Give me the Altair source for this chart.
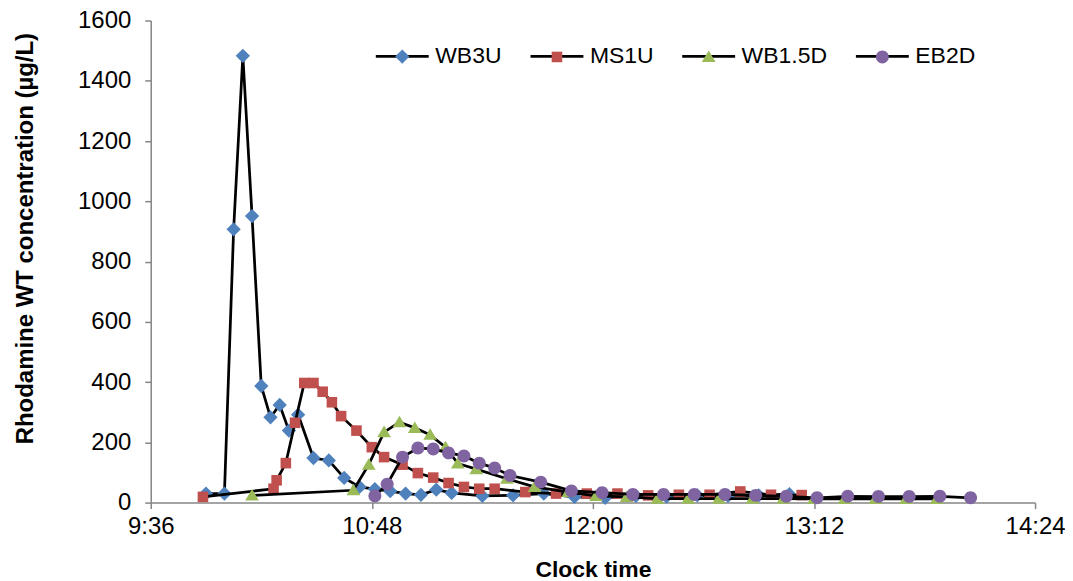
import altair as alt
import pandas as pd

series_names = ["WB3U", "MS1U", "WB1.5D", "EB2D"]
series_colors = ["#4F81BD", "#C0504D", "#9BBB59", "#8064A2"]

wb3u_time = ["9:54", "10:00", "10:03", "10:06", "10:09", "10:12", "10:15", "10:18", "10:21", "10:24",
             "10:29", "10:34", "10:39", "10:44", "10:49", "10:54", "10:59", "11:04", "11:09", "11:14",
             "11:24", "11:34", "11:44", "11:54", "12:04", "12:14", "12:24", "12:34", "12:44", "12:54", "13:04"]
wb3u_conc = [30, 30, 907, 1483, 951, 387, 283, 324, 239, 292,
             148, 140, 82, 52, 45, 38, 30, 26, 43, 32,
             22, 24, 30, 19, 16, 22, 20, 24, 22, 24, 28]

ms1u_time = ["9:53", "10:16", "10:17", "10:20", "10:23", "10:26", "10:29", "10:32", "10:35", "10:38",
             "10:43", "10:48", "10:52", "10:58", "11:03", "11:08", "11:13", "11:18", "11:23", "11:28",
             "11:38", "11:48", "11:58", "12:08", "12:18", "12:28", "12:38", "12:48", "12:58", "13:08"]
ms1u_conc = [19, 46, 74, 131, 265, 397, 397, 368, 333, 287,
             239, 184, 151, 126, 98, 83, 65, 52, 46, 46,
             35, 30, 30, 30, 24, 26, 26, 37, 26, 25]

wb15d_time = ["10:09", "10:42", "10:47", "10:52", "10:57", "11:02", "11:07", "11:12", "11:16", "11:22",
              "11:32", "11:41", "11:52", "12:01", "12:11", "12:21", "12:31", "12:41", "12:52", "13:02",
              "13:12", "13:22", "13:32", "13:42", "13:52"]
wb15d_conc = [24, 41, 126, 234, 267, 248, 225, 184, 130, 111,
              79, 52, 35, 22, 19, 13, 13, 13, 13, 13,
              12, 12, 12, 12, 12]

eb2d_time = ["10:49", "10:53", "10:58", "11:03", "11:08", "11:13", "11:18", "11:23", "11:28", "11:33",
             "11:43", "11:53", "12:03", "12:13", "12:23", "12:33", "12:43", "12:53", "13:03", "13:13",
             "13:23", "13:33", "13:43", "13:53", "14:03"]
eb2d_conc = [22, 61, 151, 181, 178, 165, 155, 131, 115, 90,
             68, 39, 33, 27, 27, 27, 27, 24, 21, 16,
             21, 20, 20, 21, 16]

x_tick_values = [576, 648, 720, 792, 864]   # 9:36 ... 14:24 in minutes
y_tick_values = list(range(0, 1601, 200))

# marker paths (unit box scaled by sqrt(size)/2)
marker_paths = [
    "M0,-0.27L0.27,0L0,0.27L-0.27,0Z",
    "M-0.2,-0.2H0.2V0.2H-0.2Z",
    "M0,-0.245L0.26,0.19L-0.26,0.19Z",
    "M0.245,0A0.245,0.245,0,1,1,-0.245,0A0.245,0.245,0,1,1,0.245,0Z",
]

ZW = "\u200b"  # zero-width mark keeps the line legend separate from the marker legend


def to_min(s):
    h, m = s.split(":")
    return int(h) * 60 + int(m)


rows = []
for name, times, vals in [
    ("WB3U", wb3u_time, wb3u_conc),
    ("MS1U", ms1u_time, ms1u_conc),
    ("WB1.5D", wb15d_time, wb15d_conc),
    ("EB2D", eb2d_time, eb2d_conc),
]:
    for t, v in zip(times, vals):
        rows.append({"t": to_min(t), "conc": v, "series": name, "series_l": name + ZW})
df = pd.DataFrame(rows)
line_domain = [n + ZW for n in series_names]

FONT = "Liberation Sans"
SYM = 2809
SW = 2.75
LX, LY = 224, 8

x_enc = alt.X(
    "t:Q",
    scale=alt.Scale(domain=[576, 864], nice=False, zero=False),
    axis=alt.Axis(
        values=x_tick_values,
        labelExpr="floor(datum.value/60) + ':' + (datum.value % 60 < 10 ? '0' : '') + (datum.value % 60)",
        labelFlush=False,
        title="Clock time",
        titlePadding=20,
        labelPadding=6,
    ),
)
y_enc = alt.Y(
    "conc:Q",
    scale=alt.Scale(domain=[0, 1600], nice=False),
    axis=alt.Axis(
        values=y_tick_values,
        format="d",
        labelFlush=False,
        title="Rhodamine WT concentration (µg/L)",
        titleFontSize=24,
        titlePadding=40,
        titleY=218,
        labelPadding=14,
    ),
)

line_legend = alt.Legend(
    orient="none", legendX=LX, legendY=LY, direction="horizontal", title=None, zindex=1,
    symbolType="M-1,0H1", symbolSize=SYM, symbolStrokeWidth=SW, symbolStrokeColor="black",
    labelFontSize=23, labelFont=FONT, labelColor="black", labelOffset=5, columnPadding=23, padding=0,
)
mark_legend = alt.Legend(
    orient="none", legendX=LX, legendY=LY, direction="horizontal", title=None, zindex=2,
    symbolSize=SYM, symbolStrokeWidth=SW, symbolStrokeColor="transparent", symbolOpacity=1,
    labelFontSize=23, labelFont=FONT, labelOpacity=0, labelOffset=5, columnPadding=27, padding=0,
)

base = alt.Chart(df)
layers = []
for name in series_names:
    sub = base.transform_filter(alt.datum.series == name)
    layers.append(
        sub.mark_line(strokeWidth=SW).encode(
            x=x_enc, y=y_enc,
            stroke=alt.Stroke("series_l:N", scale=alt.Scale(domain=line_domain, range=["black"] * 4), legend=line_legend),
        )
    )
    layers.append(
        sub.mark_point(filled=True, size=SYM, opacity=1).encode(
            x=x_enc, y=y_enc,
            fill=alt.Fill("series:N", scale=alt.Scale(domain=series_names, range=series_colors), legend=mark_legend),
            shape=alt.Shape("series:N", scale=alt.Scale(domain=series_names, range=marker_paths), legend=mark_legend),
        )
    )

chart = alt.layer(*layers).properties(
    width=886, height=483,
    autosize=alt.AutoSizeParams(type="none"),
    padding={"left": 143, "top": 12, "right": 30, "bottom": 78},
).configure_view(stroke=None).configure_axis(
    grid=False,
    domainColor="#868686", domainWidth=1.5,
    tickColor="#868686", tickSize=6, tickWidth=1.5,
    labelFont=FONT, labelFontSize=24, labelColor="black",
    titleFont=FONT, titleFontSize=23, titleFontWeight="bold", titleColor="black",
)

chart.save("out.html", embed_options={"renderer": "svg", "actions": False})
